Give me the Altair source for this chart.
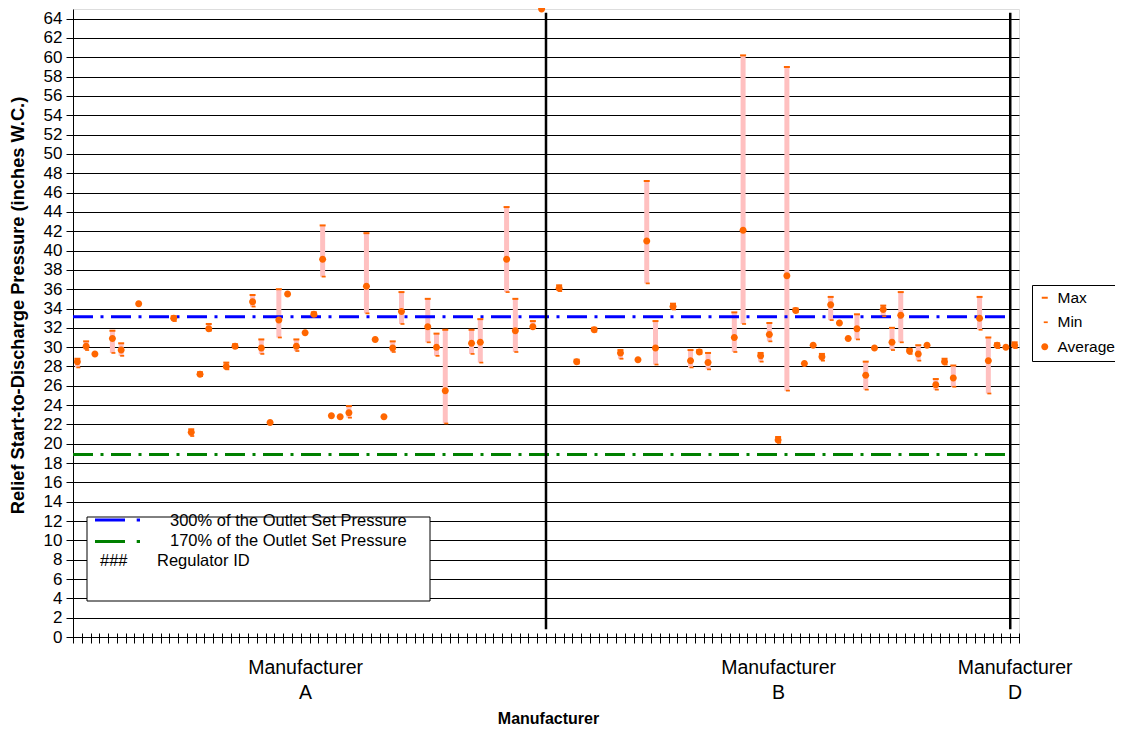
import altair as alt
import pandas as pd

# ---------------- data ----------------
manufacturers = ["A", "B", "D"]
group_sizes = [54, 53, 1]            # regulator slots per manufacturer
group_label_slots = [26, 80, 107]    # slot where each manufacturer label is centred

slots = [0, 1, 2, 4, 5, 7, 11, 13, 14, 15, 17, 18, 20, 21, 22, 23, 24, 25, 26, 27,
         28, 29, 30, 31, 33, 34, 35, 36, 37, 40, 41, 42, 45, 46, 49, 50, 52, 53,
         55, 57, 59, 62, 64, 65, 66, 68, 70, 71, 72, 75, 76, 78, 79, 80, 81, 82,
         83, 84, 85, 86, 87, 88, 89, 90, 91, 92, 93, 94, 95, 96, 97, 98, 99, 100,
         103, 104, 105, 106,
         107]
avg_vals = [28.5, 30.1, 29.3, 30.9, 29.7, 34.5, 33.0, 21.2, 27.2, 31.9, 28.0, 30.1, 34.7, 29.9, 22.2, 32.8, 35.5, 30.1, 31.5, 33.4,
            39.1, 22.9, 22.8, 23.2, 36.3, 30.8, 22.8, 29.9, 33.7, 32.1, 30.0, 25.5, 30.4, 30.5, 39.1, 31.7, 32.1, 65.0,
            36.1, 28.5, 31.8, 29.4, 28.7, 41.0, 29.9, 34.2, 28.6, 29.5, 28.4, 31.0, 42.1, 29.1, 31.3, 20.4, 37.4, 33.8,
            28.3, 30.2, 29.0, 34.4, 32.5, 30.9, 31.9, 27.1, 29.9, 33.9, 30.5, 33.3, 29.6, 29.3, 30.2, 26.1, 28.5, 26.8,
            33.0, 28.6, 30.2, 30.0,
            30.2]
max_vals = [28.8, 30.6, None, 31.7, 30.4, None, 33.2, 21.5, 27.4, 32.4, 28.4, 30.3, 35.4, 30.8, None, 36.0, None, 30.8, None, 33.6,
            42.6, None, None, 23.9, 41.8, None, None, 30.6, 35.7, 35.0, 31.4, 31.8, 31.8, 32.9, 44.5, 35.0, 32.7, None,
            36.4, 28.7, 32.0, 29.7, None, 47.2, 32.7, 34.5, 29.7, 29.7, 29.4, 33.6, 60.2, 29.4, 32.5, 20.7, 59.0, 34.0,
            None, None, 29.3, 35.2, None, None, 33.4, 28.5, None, 34.3, 32.0, 35.7, 29.8, 30.2, None, 26.7, 28.8, 28.1,
            35.2, 31.0, 30.4, None,
            30.5]
min_vals = [27.9, 29.7, None, 29.4, 29.1, None, 32.7, 20.8, 27.0, 31.7, 27.7, 29.9, 34.2, 29.3, None, 31.0, None, 29.6, None, 33.2,
            37.3, None, None, 22.7, 33.5, None, None, 29.5, 32.4, 30.5, 29.1, 22.1, 29.3, 28.4, 35.7, 29.5, 32.0, None,
            35.8, 28.3, 31.6, 28.8, None, 36.6, 28.2, 33.9, 27.9, 29.3, 27.7, 29.5, 32.4, 28.5, 30.6, 20.1, 25.5, 33.6,
            None, None, 28.6, 32.8, None, None, 30.8, 25.6, None, 33.2, 29.7, 30.5, 29.3, 28.6, None, 25.6, 28.2, 25.9,
            31.8, 25.2, 29.9, None,
            29.9]

ref_labels = ["300% of the Outlet Set Pressure", "170% of the Outlet Set Pressure"]
ref_values = [33.15, 18.9]
ref_colors = ["#0000FF", "#008000"]

series_names = ["Max", "Min", "Average"]
y_tick_values = list(range(0, 65, 2))

# ---------------- derived tables ----------------
n_slots = sum(group_sizes)
edges = []
acc = 0
for s in group_sizes:
    acc += s
    edges.append(acc - 0.5)
boundaries = [i - 0.5 for i in range(n_slots + 1)]

bar_rows = [dict(slot=s, low=lo, high=hi) for s, lo, hi in zip(slots, min_vals, max_vals) if hi is not None]
bars_df = pd.DataFrame(bar_rows)

pt_rows = []
for s, hi in zip(slots, max_vals):
    if hi is not None:
        pt_rows.append(dict(slot=s, value=hi, series="Max"))
for s, lo in zip(slots, min_vals):
    if lo is not None:
        pt_rows.append(dict(slot=s, value=lo, series="Min"))
for s, a in zip(slots, avg_vals):
    pt_rows.append(dict(slot=s, value=a, series="Average"))
pts_df = pd.DataFrame(pt_rows)

ref_df = pd.DataFrame({"label": ref_labels, "value": ref_values,
                       "x0": [-0.5] * len(ref_labels), "x1": [edges[-2]] * len(ref_labels)})
div_df = pd.DataFrame({"x": edges[:-1], "y0": [0.8] * (len(edges) - 1), "y1": [64.6] * (len(edges) - 1)})
one_df = pd.DataFrame({"k": [0]})

# ---------------- scales / axes ----------------
W, H = 946, 628
FONT = "Liberation Sans"
x_scale = alt.Scale(domain=[-0.5, n_slots - 0.5], nice=False, zero=False)
y_scale = alt.Scale(domain=[0, 65], nice=False, zero=True)

y_axis = alt.Axis(values=y_tick_values, grid=True, gridColor="black", gridWidth=1, gridOpacity=1,
                  domainColor="black", domainWidth=1, tickColor="black", tickSize=7, tickWidth=1,
                  labelFontSize=17, labelColor="black", labelPadding=4, labelFont=FONT,
                  labelOverlap=False, labelFlush=False,
                  title="Relief Start-to-Discharge Pressure (inches W.C.)", titleFont=FONT,
                  titleFontSize=18.3, titleFontWeight="bold", titleColor="black",
                  titleAngle=270, titleX=-55, titleY=296, titleAlign="center", titleBaseline="middle")

tick_axis = alt.Axis(orient="bottom", values=boundaries, labels=False, domain=False, grid=False, ticks=True,
                     tickSize=10, tickColor="black", tickWidth=1, offset=-4, title=None)

label_expr = " : ".join(
    f"datum.value == {p} ? ['Manufacturer', '{m}']" for p, m in zip(group_label_slots, manufacturers)
) + " : ''"
label_axis = alt.Axis(orient="bottom", values=group_label_slots, labelExpr=label_expr, ticks=False,
                      domain=False, grid=False,
                      labelFontSize=19.5, labelFont=FONT, labelColor="black", labelPadding=21.5,
                      labelLineHeight=25, labelFlush=False, labelOverlap=False,
                      title="Manufacturer", titleFont=FONT, titleFontSize=16, titleFontWeight="bold",
                      titleColor="black", titleX=475, titleY=81.5, titleAlign="center", titleBaseline="middle")

# ---------------- layers ----------------
bars = alt.Chart(bars_df).mark_rule(color="#FFC0C0", strokeWidth=5).encode(
    x=alt.X("slot:Q", scale=x_scale, axis=tick_axis),
    y=alt.Y("low:Q", scale=y_scale, axis=y_axis),
    y2="high:Q",
)

ref_layers = []
for i in range(len(ref_labels)):
    ref_layers.append(
        alt.Chart(ref_df.iloc[[i]]).mark_rule(color=ref_colors[i], strokeWidth=3,
                                              strokeDash=[20, 7.5, 3, 7.5]).encode(
            x=alt.X("x0:Q", scale=x_scale, axis=None),
            x2="x1:Q",
            y=alt.Y("value:Q", scale=y_scale, axis=y_axis),
        )
    )

dividers = alt.Chart(div_df).mark_rule(color="black", strokeWidth=2.5).encode(
    x=alt.X("x:Q", scale=x_scale, axis=None),
    y=alt.Y("y0:Q", scale=y_scale, axis=y_axis),
    y2="y1:Q",
)

# symbol shapes drawn at a common symbol size of 100 (1 unit = 5 px)
max_path = "M-0.6,-0.2H0.6V0.2H-0.6Z"
min_path = "M-0.2,-0.17H0.6V0.17H-0.2Z"
avg_path = "M-0.7,0A0.7,0.7,0,1,0,0.7,0A0.7,0.7,0,1,0,-0.7,0Z"

leg = alt.Legend(title=None, orient="none", legendX=959, legendY=276, strokeColor="black",
                 fillColor="white", padding=5, labelFontSize=15.5, labelFont=FONT, labelColor="black",
                 rowPadding=7.5, labelOffset=5, symbolStrokeWidth=0, symbolSize=100)
points = alt.Chart(pts_df).mark_point(filled=True, opacity=1, strokeWidth=0, size=100).encode(
    x=alt.X("slot:Q", scale=x_scale, axis=label_axis),
    y=alt.Y("value:Q", scale=y_scale, axis=y_axis),
    color=alt.Color("series:N", scale=alt.Scale(domain=series_names, range=["#FF6600"] * 3), legend=leg),
    shape=alt.Shape("series:N", scale=alt.Scale(domain=series_names, range=[max_path, min_path, avg_path]), legend=leg),
)

# manual legend for the reference lines (bottom-left box)
box = alt.Chart(one_df).mark_rect(fill="white", stroke="black", strokeWidth=1).encode(
    x=alt.value(14), x2=alt.value(357), y=alt.value(508), y2=alt.value(592)
)
legend_layers = [box]
for i in range(len(ref_labels)):
    row = ref_df.iloc[[i]]
    legend_layers.append(
        alt.Chart(row).mark_rule(color=ref_colors[i], strokeWidth=3, strokeDash=[30, 11.7, 3.3, 100]).encode(
            x=alt.value(22), x2=alt.value(67), y=alt.value(511 + 21.5 * i)
        )
    )
    legend_layers.append(
        alt.Chart(row).mark_text(align="left", baseline="middle", font=FONT, fontSize=16.5, color="black").encode(
            x=alt.value(97), y=alt.value(511.7 + 20 * i), text="label:N"
        )
    )
legend_layers.append(
    alt.Chart(one_df).mark_text(align="left", baseline="middle", font=FONT, fontSize=16.5, color="black",
                                text="###").encode(x=alt.value(27), y=alt.value(551.7))
)
legend_layers.append(
    alt.Chart(one_df).mark_text(align="left", baseline="middle", font=FONT, fontSize=16.5, color="black",
                                text="Regulator ID").encode(x=alt.value(84), y=alt.value(551.7))
)

chart = alt.layer(bars, *ref_layers, dividers, points, *legend_layers).resolve_axis(
    x="independent"
).properties(
    width=W, height=H,
    autosize=alt.AutoSizeParams(type="none"),
    padding={"left": 65, "top": 1, "right": 96, "bottom": 89},
).configure_view(stroke="#999999", strokeWidth=1).configure(font=FONT, background="white")

chart.save("out.html", embed_options={"renderer": "svg", "actions": False})
